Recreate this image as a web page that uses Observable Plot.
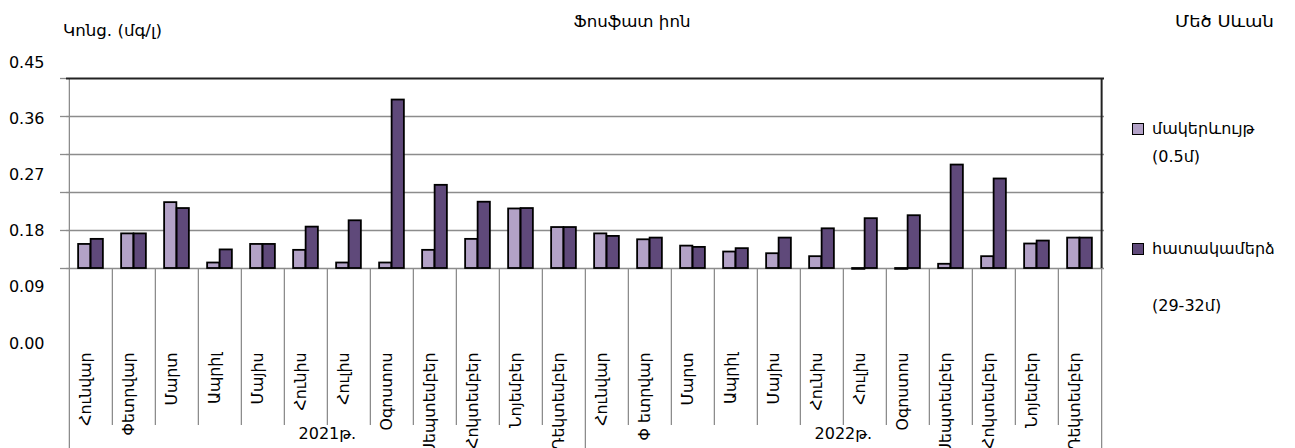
<!DOCTYPE html>
<html>
<head>
<meta charset="utf-8">
<script src="https://cdn.jsdelivr.net/npm/d3@7"></script>
<script src="https://cdn.jsdelivr.net/npm/@observablehq/plot@0.6"></script>
<style>
  body { margin: 0; background: #fff; }
  #wrap { position: relative; width: 1295px; height: 448px; font-family: "DejaVu Sans", "Noto Sans", sans-serif; color: #000; }
  #wrap > svg, #wrap > .ov { position: absolute; left: 0; top: 0; }
  .t { position: absolute; font-size: 16px; line-height: 20px; white-space: nowrap; transform-origin: 0 50%; }
  .sq { position: absolute; width: 10px; height: 10px; border: 1px solid #000; }
</style>
</head>
<body>
<div id="wrap"></div>
<script>
// ---- data ----
const years = ["2021թ.", "2022թ."];
const months2021 = ["Հունվար","Փետրվար","Մարտ","Ապրիլ","Մայիս","Հունիս","Հուլիս","Օգոստոս","Սեպտեմբեր","Հոկտեմբեր","Նոյեմբեր","Դեկտեմբեր"];
const months2022 = ["Հունվար","Փ ետրվար","Մարտ","Ապրիլ","Մայիս","Հունիս","Հուլիս","Օգոստոս","Սեպտեմբեր","Հոկտեմբեր","Նոյեմբեր","Դեկտեմբեր"];
// surface layer (0.5 m)
const surface = [0.057,0.082,0.156,0.013,0.057,0.043,0.013,0.013,0.043,0.069,0.141,0.097,
                 0.082,0.068,0.053,0.039,0.035,0.028,-0.002,-0.002,0.010,0.028,0.058,0.072];
// near-bottom layer (29-32 m)
const nearBottom = [0.069,0.082,0.142,0.044,0.057,0.098,0.113,0.399,0.197,0.157,0.142,0.097,
                    0.076,0.072,0.050,0.047,0.072,0.094,0.118,0.125,0.245,0.212,0.065,0.072];
const yTicks = [0, 0.09, 0.18, 0.27, 0.36, 0.45];
const seriesNames = ["մակերևույթ", "հատակամերձ"];
const seriesSub = ["(0.5մ)", "(29-32մ)"];
const title = "Ֆոսֆատ իոն";
const yTitle = "Կոնց. (մգ/լ)";
const place = "Մեծ Սևան";

// ---- build table ----
const monthLists = [months2021, months2022];
const rows = [];
years.forEach((yr, yi) => monthLists[yi].forEach((m, mi) => {
  const i = yi * 12 + mi;
  rows.push({key: yr + "|" + mi, label: m, year: yr, surface: surface[i], bottom: nearBottom[i]});
}));
const keys = rows.map(d => d.key);
const firstKeys = years.map(y => y + "|0");
const innerKeys = keys.filter(k => !firstKeys.includes(k));
const lastKey = keys[keys.length - 1];

const W = 1295, H = 448, mL = 66, mR = 191, mT = 78, mB = 180;
const bw = (W - mL - mR) / keys.length;
const barW = 12.5;
const inOuter = bw / 2 - barW, inInner = bw / 2;
const font = '"DejaVu Sans", "Noto Sans", sans-serif';
const grey = "#8c8c8c";

const main = Plot.plot({
  width: W, height: H,
  marginTop: mT, marginBottom: mB, marginLeft: mL, marginRight: mR,
  style: {fontFamily: font, fontSize: "15px", background: "transparent", color: "#000"},
  x: {type: "band", domain: keys, padding: 0, axis: null, label: null},
  y: {domain: [0, 0.45], axis: null, label: null},
  marks: [
    Plot.gridY(yTicks.slice(1, -1), {stroke: grey, strokeOpacity: 1, strokeWidth: 1.3}),
    Plot.axisY(yTicks, {tickSize: 6, tickFormat: () => "", label: null, stroke: grey, strokeWidth: 1.3}),
    Plot.ruleX([keys[0]], {dx: -bw / 2, stroke: grey, strokeWidth: 1.3}),
    Plot.axisX(innerKeys, {anchor: "bottom", tickSize: 157, tickFormat: () => "", label: null, dx: -bw / 2, stroke: grey, strokeWidth: 1.3}),
    Plot.axisX(firstKeys, {anchor: "bottom", tickSize: 180, tickFormat: () => "", label: null, dx: -bw / 2, stroke: grey, strokeWidth: 1.3}),
    Plot.axisX([lastKey], {anchor: "bottom", tickSize: 180, tickFormat: () => "", label: null, dx: bw / 2, stroke: grey, strokeWidth: 1.3}),
    Plot.ruleY([0], {stroke: grey, strokeWidth: 1.6}),
    Plot.barY(rows, {x: "key", y: "surface", fill: "#B3A2C7", stroke: "#000", strokeWidth: 1.8, insetLeft: inOuter, insetRight: inInner}),
    Plot.barY(rows, {x: "key", y: "bottom", fill: "#5F497A", stroke: "#000", strokeWidth: 1.8, insetLeft: inInner, insetRight: inOuter}),
    Plot.ruleY([0.45], {stroke: "#222", strokeWidth: 2}),
    Plot.ruleX([lastKey], {dx: bw / 2, stroke: "#222", strokeWidth: 2}),
    Plot.text(rows, {x: "key", text: "label", frameAnchor: "bottom", dy: 84, rotate: -90, textAnchor: "end", fontSize: 15, fill: "#000"}),
    Plot.text(years, {x: d => d + "|6", text: d => d, frameAnchor: "bottom", dy: 170, dx: -bw / 2, fontSize: 16, fill: "#000"})
  ]
});

// slightly widen the Armenian month labels along their reading direction
const textGroups = main.querySelectorAll('g[aria-label="text"]');
if (textGroups.length) {
  textGroups[0].querySelectorAll("text").forEach(t => {
    const tr = t.getAttribute("transform") || "";
    t.setAttribute("transform", tr + " scale(1.05,1)");
  });
}

const yLabels = Plot.plot({
  width: 66, height: H,
  marginTop: 62, marginBottom: 105, marginLeft: 48, marginRight: 0,
  style: {fontFamily: font, fontSize: "16px", background: "transparent", color: "#000"},
  y: {domain: [0, 0.45], axis: null, label: null},
  marks: [
    Plot.axisY(yTicks, {anchor: "left", tickSize: 0, tickPadding: 4, label: null, tickFormat: d => d.toFixed(2), fontSize: 16, fill: "#000"})
  ]
});
yLabels.classList.add("ov");

const wrap = document.getElementById("wrap");
wrap.appendChild(main);
wrap.appendChild(yLabels);

function addText(txt, left, cy, sx, center) {
  const el = document.createElement("div");
  el.className = "t";
  el.textContent = txt;
  el.style.top = (cy - 10) + "px";
  el.style.left = left + "px";
  el.style.transform = (center ? "translateX(-50%) " : "") + "scaleX(" + sx + ")";
  if (center) el.style.transformOrigin = "50% 50%";
  wrap.appendChild(el);
}
function addSq(color, left, top) {
  const el = document.createElement("div");
  el.className = "sq";
  el.style.left = left + "px"; el.style.top = top + "px";
  el.style.background = color;
  wrap.appendChild(el);
}
addText(yTitle, 63, 31, 1.04);
addText(title, 632, 22, 1.04, true);
addText(place, 1175, 22, 1.12);
addSq("#B3A2C7", 1132, 123);
addText(seriesNames[0], 1152, 129, 1);
addText(seriesSub[0], 1152, 157, 1);
addSq("#5F497A", 1132, 243);
addText(seriesNames[1], 1152, 249, 1);
addText(seriesSub[1], 1152, 306, 1);
</script>
</body>
</html>
